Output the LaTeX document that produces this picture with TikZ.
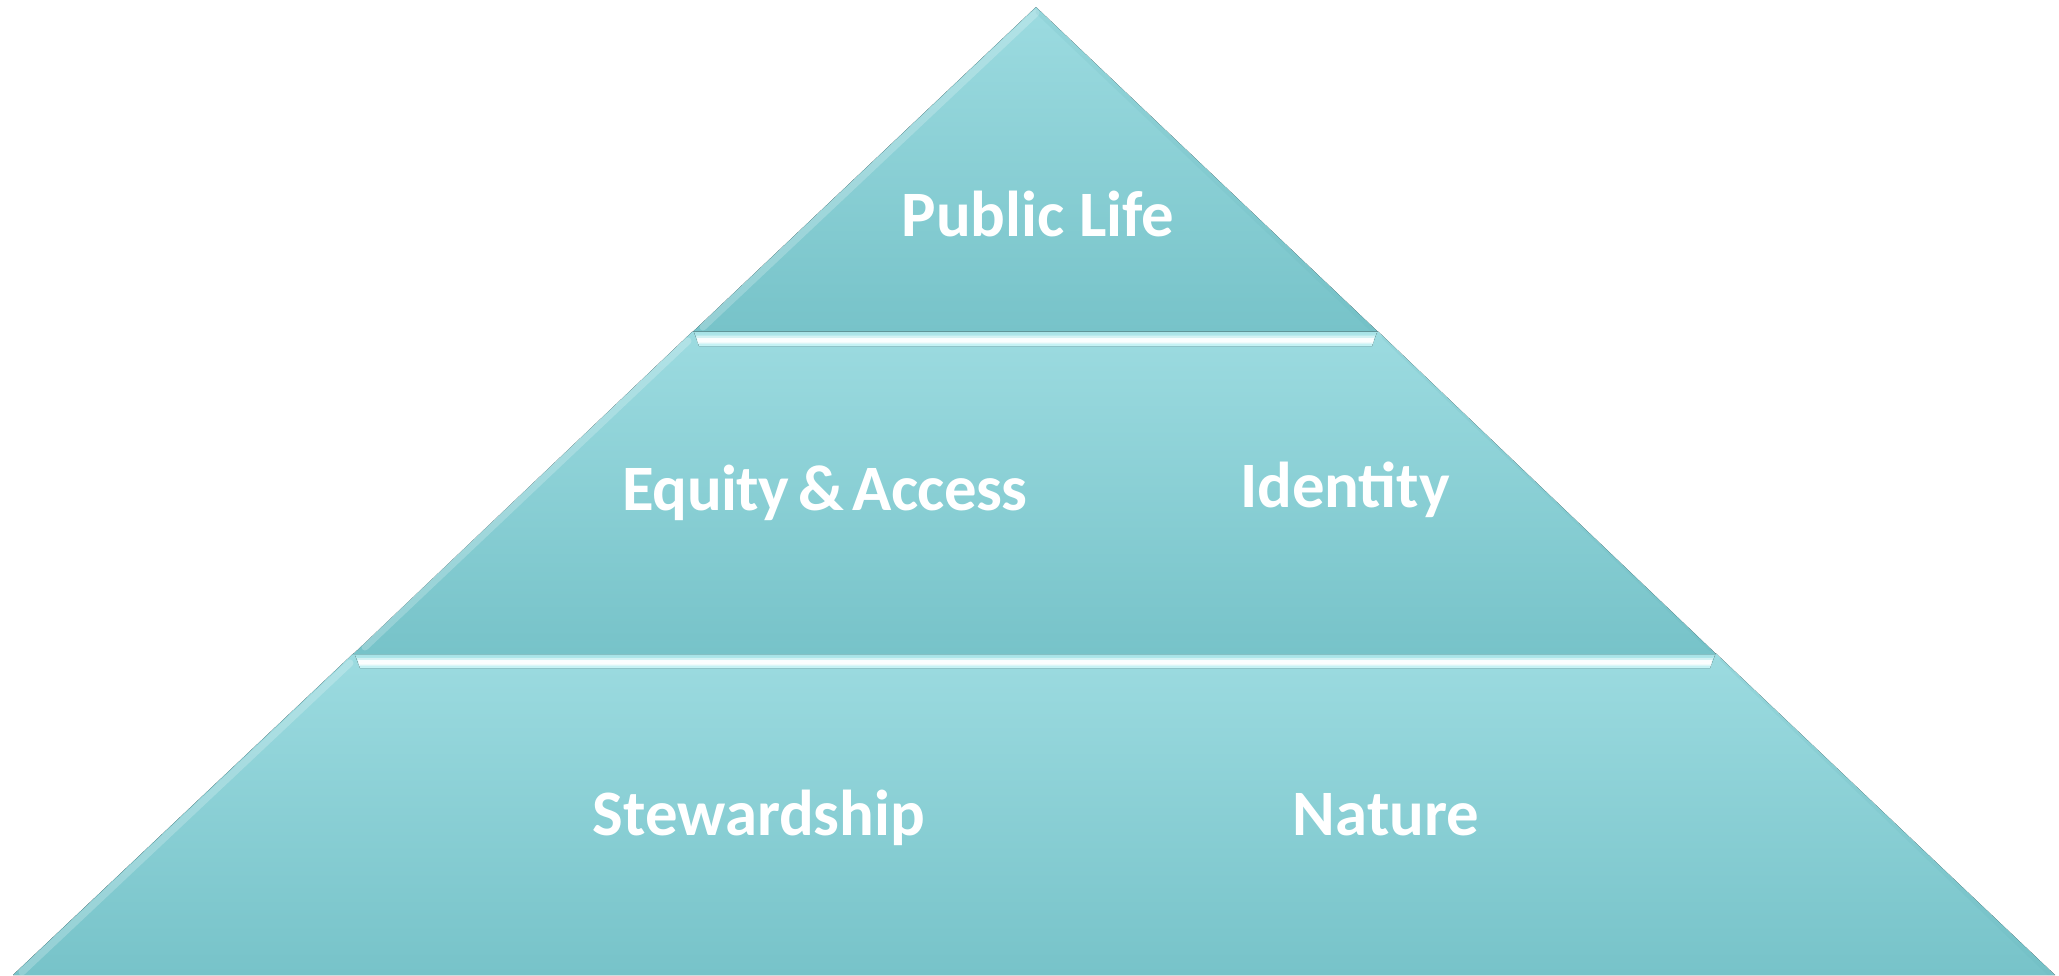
\documentclass[tikz,border=0pt]{standalone}
\usepackage{fontspec}
\setmainfont{Carlito}
\definecolor{tiertop}{HTML}{9CDBE0}
\definecolor{tierbot}{HTML}{77C3C9}
\definecolor{bartop}{HTML}{A8E3E7}
\definecolor{barbot}{HTML}{C8F4F6}
\definecolor{rimdark}{HTML}{5FAFB5}
\begin{document}
\begin{tikzpicture}[x=1pt,y=-1pt,
  tier/.style={top color=tiertop, bottom color=tierbot},
  bar/.style={top color=bartop, bottom color=barbot},
  barshine/.style={fill=white, fill opacity=0.9},
  barglow/.style={fill=white, fill opacity=0.45},
  leftrim/.style={draw=white, draw opacity=0.22, line width=7pt, line cap=round},
  rightrim/.style={draw=rimdark, draw opacity=0.12, line width=5pt, line cap=round},
  lbl/.style={text=white, font=\fontsize{64.8}{78}\selectfont\bfseries, anchor=base, inner sep=0pt}]
\useasboundingbox (0,0) rectangle (2059,975);
% tier 3 (base)
\fill[tier] (353.3,653.5) -- (1716,653.5) -- (2055,975) -- (13,975) -- cycle;
% tier 2
\fill[tier] (692.5,331.5) -- (1378.1,331.5) -- (1716,654) -- (353.3,654) -- cycle;
% tier 1 (apex)
\fill[tier] (1036,7) -- (1377.6,331.5) -- (693.1,331.5) -- cycle;
% bevel rims
\begin{scope}
\clip (1036,7) -- (2055,975) -- (13,975) -- cycle;
\draw[leftrim] (1036,13) -- (703,327);
\draw[leftrim] (688,341) -- (365,647);
\draw[leftrim] (350,663) -- (22,972);
\draw[rightrim] (1038,12) -- (1372,329);
\draw[rightrim] (1384,337) -- (1711,649);
\draw[rightrim] (1722,659) -- (2049,973);
\end{scope}
% highlight bars at the top of tiers 2 and 3
\fill[bar] (694,332) -- (1377,332) -- (1372,346) -- (699,346) -- cycle;
\fill[barglow] (696,335.5) -- (1375,335.5) -- (1373,344) -- (698,344) -- cycle;
\fill[barshine] (697,338) -- (1374,338) -- (1373,342.5) -- (698,342.5) -- cycle;
\fill[bar] (355,655) -- (1715,655) -- (1710,668) -- (360,668) -- cycle;
\fill[barglow] (357,658) -- (1713,658) -- (1711,666) -- (359,666) -- cycle;
\fill[barshine] (358,660) -- (1712,660) -- (1711,664.5) -- (359,664.5) -- cycle;
% labels
\node[lbl] (pub) at (1038,236) {Public Life};
\node[lbl,font=\fontsize{64.8}{78}\selectfont\bfseries\addfontfeature{LetterSpace=-1}] (equ) at (825,510) {Equity\hspace{0.14em}\&\hspace{0.14em}Access};
\node[lbl] (ide) at (1345,507) {Identity};
\node[lbl] (ste) at (759,835) {Stewardship};
\node[lbl] (nat) at (1386,835) {Nature};
\end{tikzpicture}
\end{document}
